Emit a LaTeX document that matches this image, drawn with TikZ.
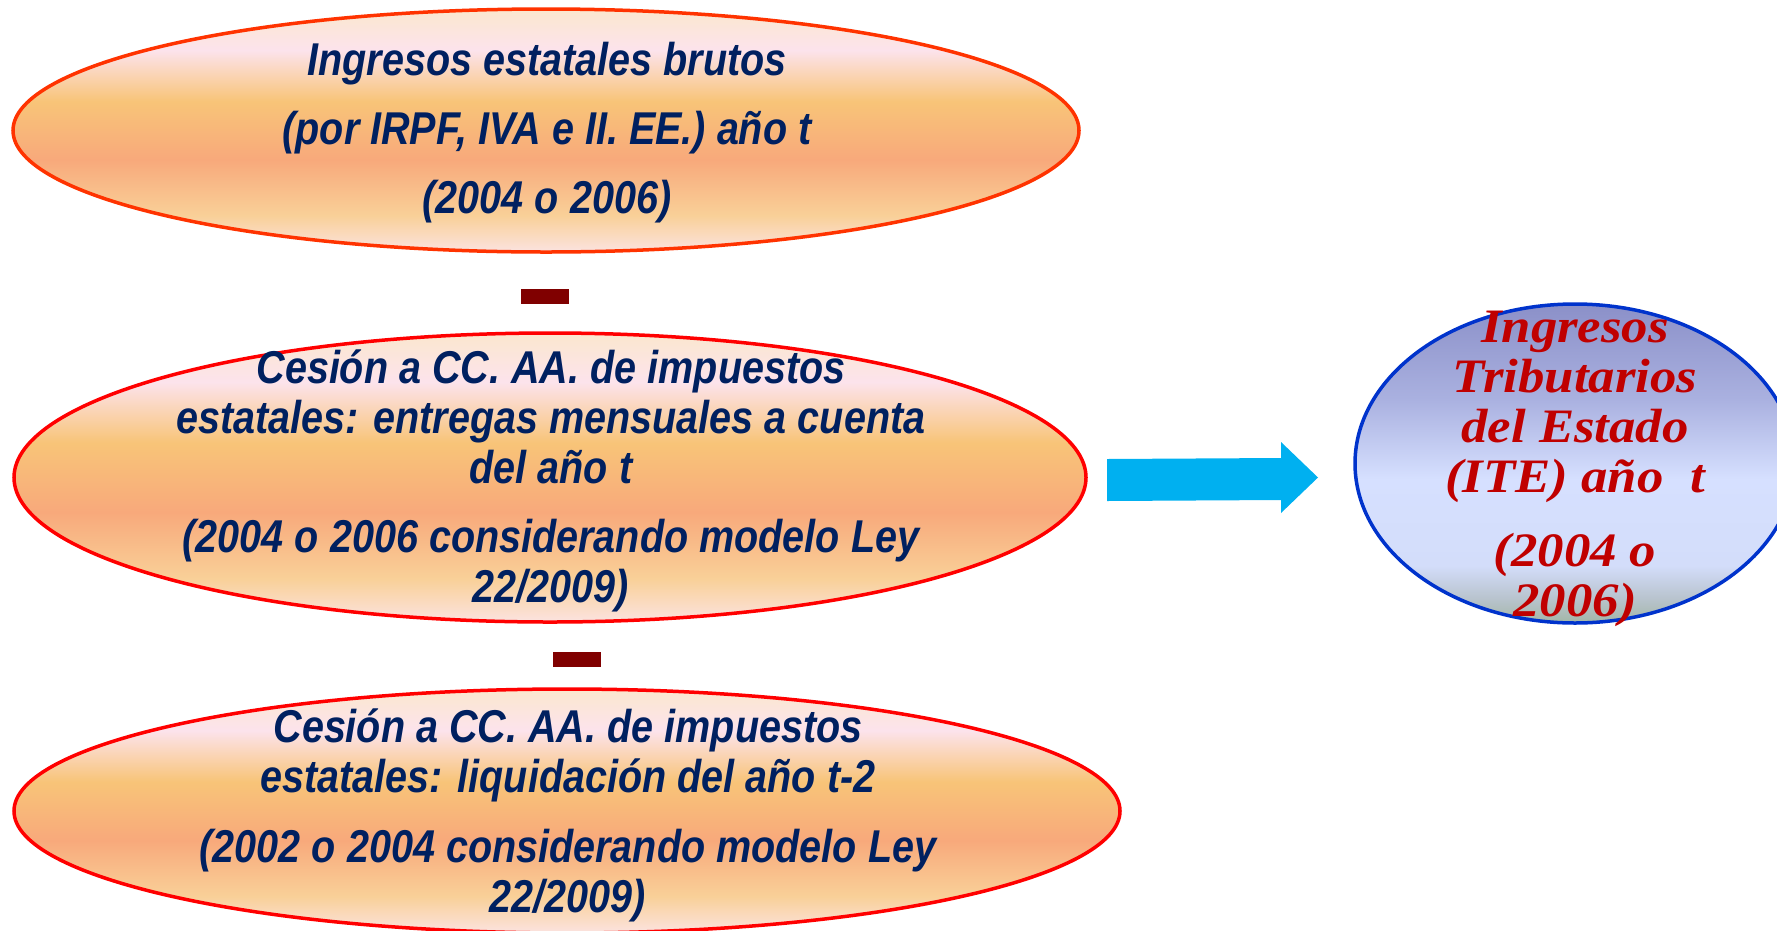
\documentclass[tikz,border=0pt]{standalone}
\usepackage{fontspec}
\usetikzlibrary{shapes.geometric}
\newfontfamily\narrowfont[FakeStretch=0.86]{Liberation Sans}
\newfontfamily\seriffont[FakeStretch=1.1]{Liberation Serif}
\definecolor{navy}{HTML}{002060}
\definecolor{ittered}{HTML}{C00000}
\definecolor{barred}{HTML}{800000}
\definecolor{arrowblue}{HTML}{00B0F0}
\definecolor{edgeorange}{HTML}{FF3300}
\definecolor{edgered}{HTML}{FF0000}
\definecolor{edgeblue}{HTML}{0033CC}
\definecolor{oa}{HTML}{FBE7CE}
\definecolor{ob}{HTML}{FCE3EC}
\definecolor{oc}{HTML}{F8C478}
\definecolor{od}{HTML}{F8A97B}
\definecolor{oe}{HTML}{F9D098}
\definecolor{of}{HTML}{FBE3E0}
\definecolor{ba}{HTML}{8B90C8}
\definecolor{bb}{HTML}{AAB1E0}
\definecolor{bc}{HTML}{D6E0FF}
\definecolor{bd}{HTML}{D3DDFA}
\definecolor{be}{HTML}{B9C4CF}
\definecolor{bf}{HTML}{A3B6A6}
\pgfdeclareverticalshading{orangeshade}{100bp}{color(0bp)=(of); color(25bp)=(of); color(32.5bp)=(oe); color(44bp)=(od); color(56bp)=(oc); color(66.5bp)=(ob); color(75bp)=(oa); color(100bp)=(oa)}
\pgfdeclareverticalshading{blueshade}{100bp}{color(0bp)=(bf); color(25bp)=(bf); color(29bp)=(be); color(34bp)=(bd); color(47.5bp)=(bc); color(60bp)=(bb); color(75bp)=(ba); color(100bp)=(ba)}
\begin{document}
\begin{tikzpicture}[x=1pt,y=-1pt,
  oval/.style={ellipse, inner sep=0pt, line width=3.5pt, shading=orangeshade},
  lefttext/.style={text=navy, align=center, inner sep=0pt},
  minusbar/.style={fill=barred, inner sep=0pt, minimum width=48pt, minimum height=15pt},
  righttext/.style={text=ittered, align=center, inner sep=0pt,
    font=\seriffont\bfseries\itshape\fontsize{48}{50}\selectfont}]
\useasboundingbox (0,0) rectangle (1777,930);
\clip (0,0) rectangle (1777,930);
% left ovals
\node[oval, draw=edgeorange, minimum width=1066pt, minimum height=243pt] (e1) at (546,130.5) {};
\node[oval, draw=edgered, minimum width=1072pt, minimum height=289pt] (e2) at (550,477.5) {};
\node[oval, draw=edgered, minimum width=1106pt, minimum height=244pt] (e3) at (567,811) {};
% right oval
\node[ellipse, inner sep=0pt, line width=3.5pt, draw=edgeblue, shading=blueshade,
  minimum width=440pt, minimum height=319pt] (e4) at (1575,463.5) {};
% texts
\node[lefttext, font=\narrowfont\bfseries\itshape\fontsize{46}{69}\selectfont] (t1) at (547,133)
  {Ingresos estatales brutos\\(por IRPF, IVA e II. EE.) año t\\(2004 o 2006)};
\node[lefttext, font=\narrowfont\bfseries\itshape\fontsize{46}{50}\selectfont] (t2) at (551,481)
  {Cesión a CC. AA. de impuestos\\estatales: entregas mensuales a cuenta\\del año t\\[19pt](2004 o 2006 considerando modelo Ley\\22/2009)};
\node[lefttext, font=\narrowfont\bfseries\itshape\fontsize{46}{50}\selectfont] (t3) at (568,815)
  {Cesión a CC. AA. de impuestos\\estatales: liquidación del año t-2\\[20pt](2002 o 2004 considerando modelo Ley\\22/2009)};
\node[righttext] (t4) at (1575,469)
  {Ingresos\\Tributarios\\del Estado\\(ITE) año\ \ t\\[24pt](2004 o\\2006)};
% minus signs
\node[minusbar] (m1) at (545,296) {};
\node[minusbar] (m2) at (577,659) {};
% block arrow
\coordinate (a1) at (1107,459);
\coordinate (a2) at (1281,458);
\coordinate (a3) at (1281,442);
\coordinate (a4) at (1318,477.5);
\coordinate (a5) at (1281,513);
\coordinate (a6) at (1281,500);
\coordinate (a7) at (1107,501);
\fill[arrowblue] (a1) -- (a2) -- (a3) -- (a4) -- (a5) -- (a6) -- (a7) -- cycle;
\end{tikzpicture}
\end{document}
